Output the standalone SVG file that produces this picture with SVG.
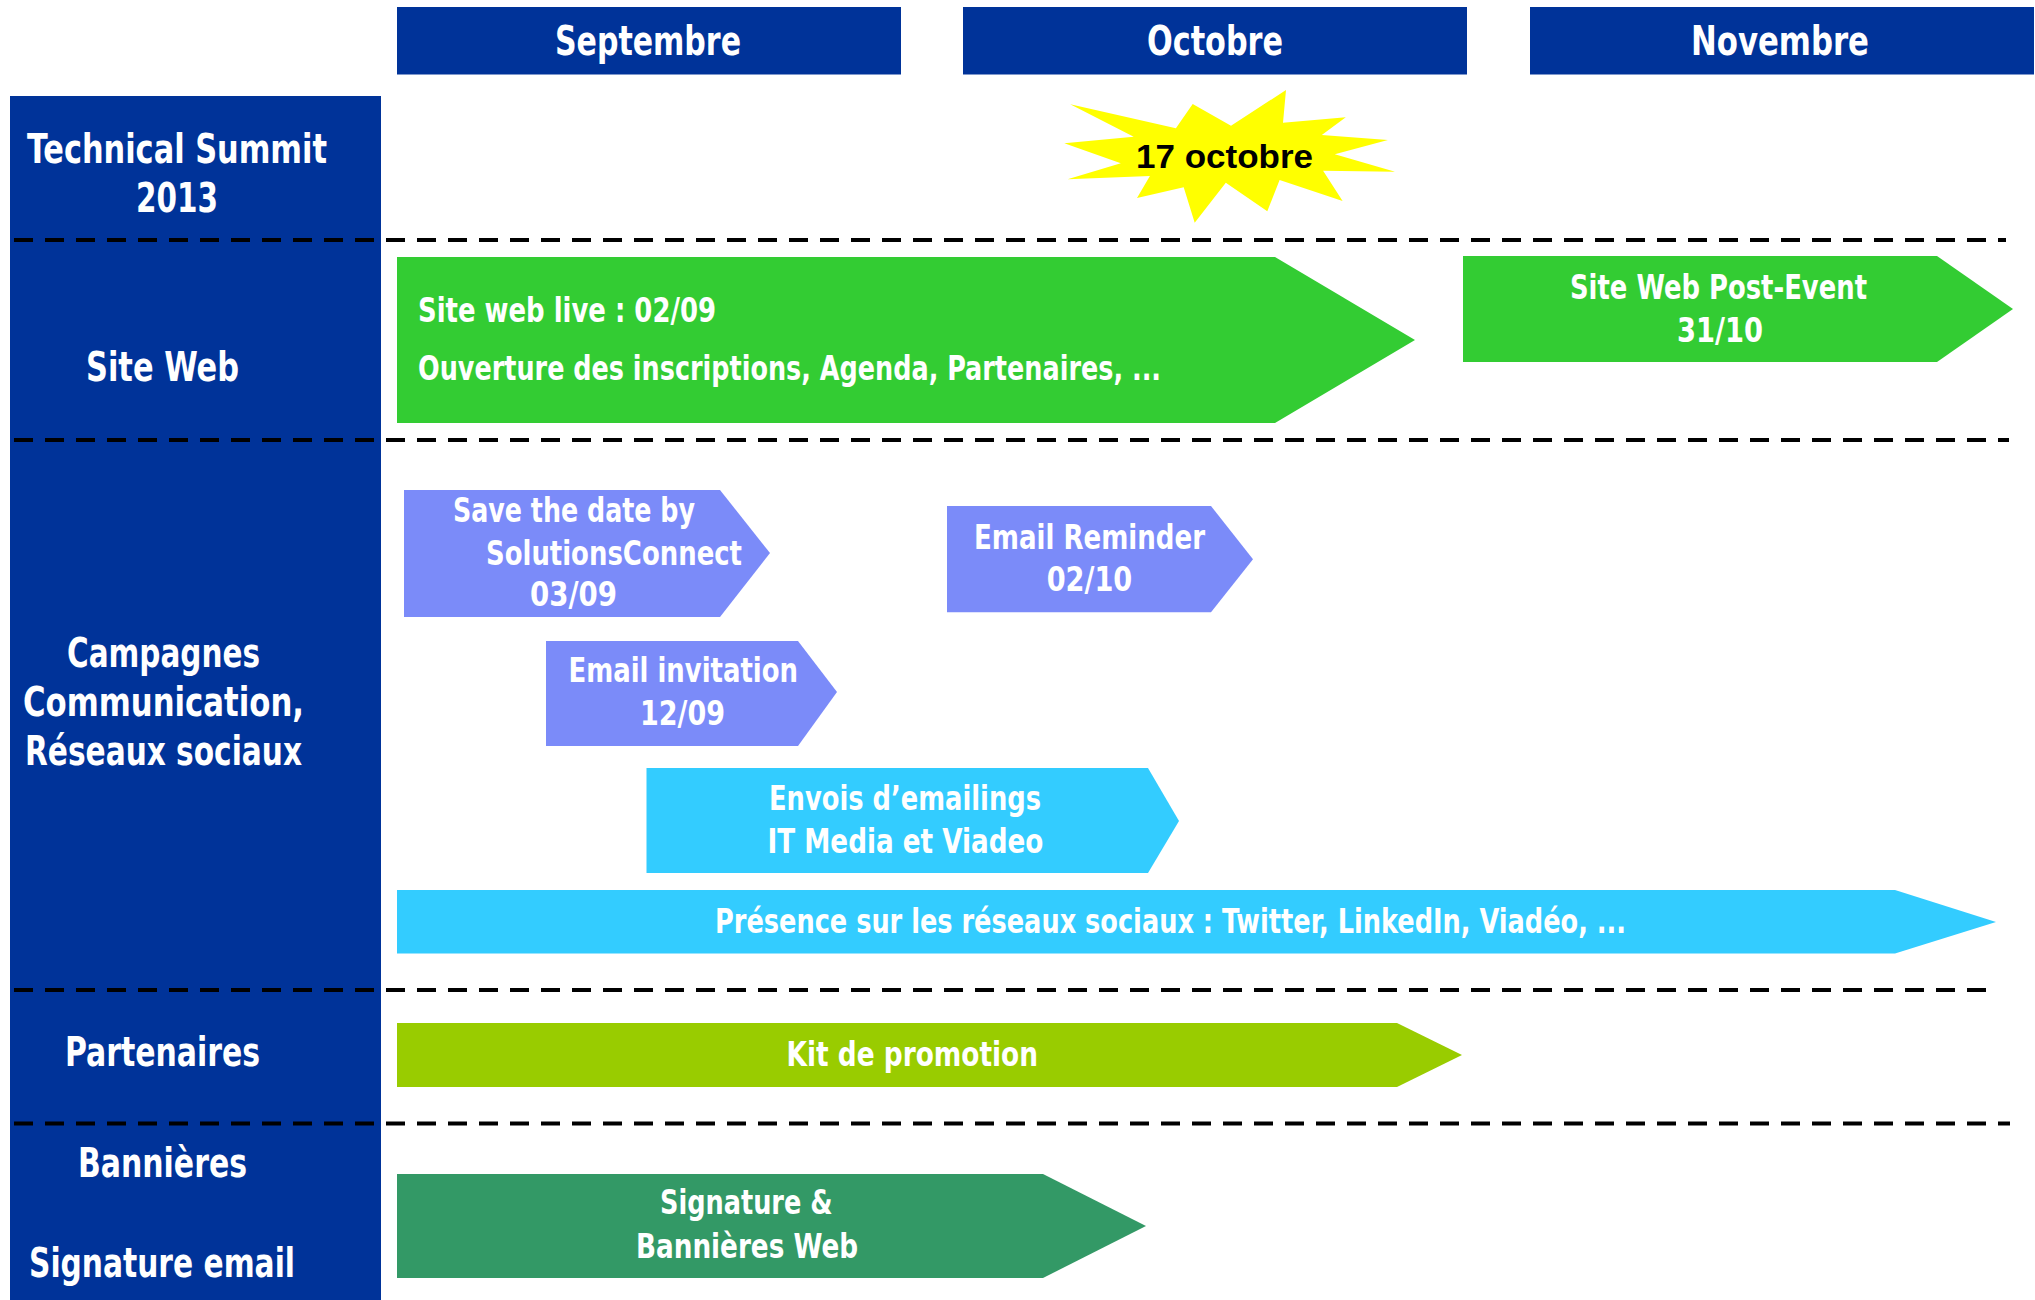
<svg xmlns="http://www.w3.org/2000/svg" width="2035" height="1300" viewBox="0 0 2035 1300">
<style>
.hdr{fill:#003399}
.t{font-family:"DejaVu Sans Condensed","Liberation Sans",sans-serif;font-weight:bold;fill:#fff}
.lab{font-size:40px}
.mon{font-size:40px}
.c{font-size:33px}
.dash{stroke:#000;stroke-width:4;stroke-dasharray:19 12;fill:none}
.green{fill:#33CC33}
.purple{fill:#7B8BF9}
.cyan{fill:#33CCFF}
.lime{fill:#99CC00}
.teal{fill:#339966}
</style>
<rect width="2035" height="1300" fill="#fff"/>
<g id="months">
<g id="m-sept"><rect class="hdr" x="397" y="7" width="504" height="67.5"/><text class="t mon" x="555" y="55" textLength="186" lengthAdjust="spacingAndGlyphs">Septembre</text></g>
<g id="m-oct"><rect class="hdr" x="963" y="7" width="504" height="67.5"/><text class="t mon" x="1147" y="55" textLength="136" lengthAdjust="spacingAndGlyphs">Octobre</text></g>
<g id="m-nov"><rect class="hdr" x="1530" y="7" width="504" height="67.5"/><text class="t mon" x="1691" y="55" textLength="178" lengthAdjust="spacingAndGlyphs">Novembre</text></g>
</g>
<g id="left-column">
<rect class="hdr" x="10" y="96" width="371" height="1204"/>
<g id="lab-summit"><text class="t lab" x="27" y="163" textLength="300" lengthAdjust="spacingAndGlyphs">Technical Summit</text><text class="t lab" x="136" y="212" textLength="82" lengthAdjust="spacingAndGlyphs">2013</text></g>
<g id="lab-site"><text class="t lab" x="86" y="381" textLength="153" lengthAdjust="spacingAndGlyphs">Site Web</text></g>
<g id="lab-camp"><text class="t lab" x="67" y="667" textLength="193" lengthAdjust="spacingAndGlyphs">Campagnes</text><text class="t lab" x="23" y="716" textLength="281" lengthAdjust="spacingAndGlyphs">Communication,</text><text class="t lab" x="25" y="765" textLength="277" lengthAdjust="spacingAndGlyphs">Réseaux sociaux</text></g>
<g id="lab-part"><text class="t lab" x="65" y="1066" textLength="195" lengthAdjust="spacingAndGlyphs">Partenaires</text></g>
<g id="lab-ban"><text class="t lab" x="78" y="1177" textLength="169" lengthAdjust="spacingAndGlyphs">Bannières</text><text class="t lab" x="29" y="1277" textLength="266" lengthAdjust="spacingAndGlyphs">Signature email</text></g>
</g>
<g id="connectors">
<line class="dash" x1="14" y1="240" x2="2006" y2="240"/>
<line class="dash" x1="14" y1="440" x2="2009" y2="440"/>
<line class="dash" x1="14" y1="990" x2="1998" y2="990"/>
<line class="dash" x1="14" y1="1123.5" x2="2010" y2="1123.5"/>
</g>
<g id="star">
<polygon fill="#FFFF00" points="1286,90 1283,122.7 1345.8,117.3 1321.8,135 1387.9,140 1334.8,154.3 1395.1,171.7 1323.1,170.7 1342.6,201 1279.6,180 1267.3,211.3 1225.8,182.7 1194.7,222.7 1183.7,187.3 1137,198 1149.9,176 1067.6,179.3 1120.8,163.3 1064.3,143.3 1133.7,136.7 1070.2,104.3 1175.9,128.3 1192.7,104 1231,125.7"/>
<text x="1136" y="167.5" font-family="'Liberation Sans',Arial,sans-serif" font-weight="bold" font-size="33" fill="#000" textLength="177" lengthAdjust="spacingAndGlyphs">17 octobre</text>
</g>
<g id="site-live">
<polygon class="green" points="397,257 1275,257 1415,340 1275,423 397,423"/>
<text class="t c" x="418" y="321.5" textLength="298" lengthAdjust="spacingAndGlyphs">Site web live : 02/09</text>
<text class="t c" x="418" y="380" textLength="743" lengthAdjust="spacingAndGlyphs">Ouverture des inscriptions, Agenda, Partenaires, ...</text>
</g>
<g id="site-post">
<polygon class="green" points="1463,256 1937,256 2013,309 1937,362 1463,362"/>
<text class="t c" x="1570" y="299" textLength="297" lengthAdjust="spacingAndGlyphs">Site Web Post-Event</text>
<text class="t c" x="1677" y="341.5" textLength="86" lengthAdjust="spacingAndGlyphs">31/10</text>
</g>
<g id="save-date">
<polygon class="purple" points="404,490 720,490 770,553 720,617 404,617"/>
<text class="t c" x="453" y="522" textLength="242" lengthAdjust="spacingAndGlyphs">Save the date by</text>
<text class="t c" x="486" y="565" textLength="256" lengthAdjust="spacingAndGlyphs">SolutionsConnect</text>
<text class="t c" x="530" y="605.5" textLength="87" lengthAdjust="spacingAndGlyphs">03/09</text>
</g>
<g id="email-inv">
<polygon class="purple" points="546,641 798,641 837,692 798,746 546,746"/>
<text class="t c" x="568.5" y="681.5" textLength="229.5" lengthAdjust="spacingAndGlyphs">Email invitation</text>
<text class="t c" x="640" y="725" textLength="85" lengthAdjust="spacingAndGlyphs">12/09</text>
</g>
<g id="email-rem">
<polygon class="purple" points="947,506 1211,506 1253,559.3 1211,612.3 947,612.3"/>
<text class="t c" x="974" y="549" textLength="231" lengthAdjust="spacingAndGlyphs">Email Reminder</text>
<text class="t c" x="1046.7" y="590.7" textLength="85.6" lengthAdjust="spacingAndGlyphs">02/10</text>
</g>
<g id="envois">
<polygon class="cyan" points="646.5,768 1148,768 1179,821 1148,873 646.5,873"/>
<text class="t c" x="769" y="810" textLength="272" lengthAdjust="spacingAndGlyphs">Envois d’emailings</text>
<text class="t c" x="767.4" y="853.3" textLength="276" lengthAdjust="spacingAndGlyphs">IT Media et Viadeo</text>
</g>
<g id="presence">
<polygon class="cyan" points="397,890 1895,890 1996,922 1895,953.5 397,953.5"/>
<text class="t c" x="715" y="932.7" textLength="911" lengthAdjust="spacingAndGlyphs">Présence sur les réseaux sociaux : Twitter, LinkedIn, Viadéo, ...</text>
</g>
<g id="kit">
<polygon class="lime" points="397,1023 1397,1023 1462,1055 1397,1087 397,1087"/>
<text class="t c" x="786.6" y="1066" textLength="251.4" lengthAdjust="spacingAndGlyphs">Kit de promotion</text>
</g>
<g id="signature">
<polygon class="teal" points="397,1174 1043,1174 1146,1226 1043,1278 397,1278"/>
<text class="t c" x="660" y="1214" textLength="172.5" lengthAdjust="spacingAndGlyphs">Signature &amp;</text>
<text class="t c" x="636" y="1257.7" textLength="222" lengthAdjust="spacingAndGlyphs">Bannières Web</text>
</g>
</svg>
